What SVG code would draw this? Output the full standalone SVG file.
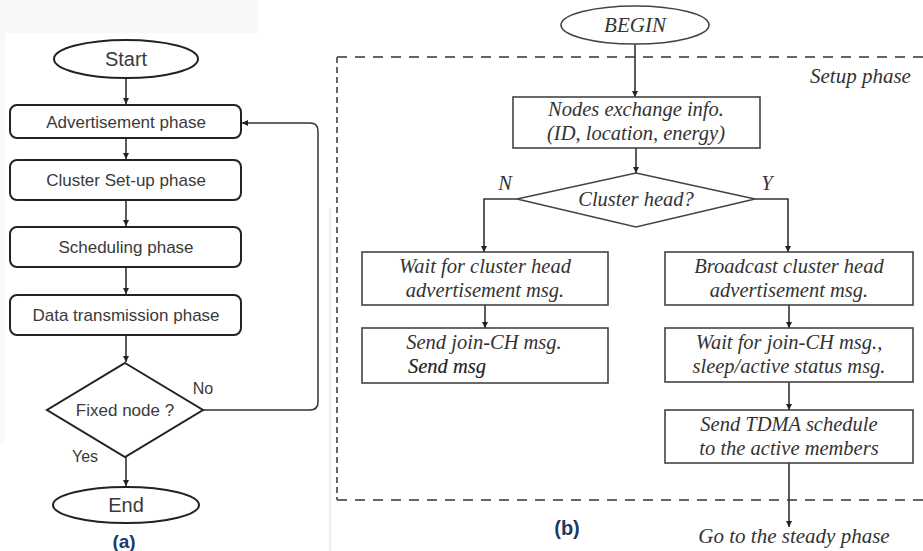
<svg xmlns="http://www.w3.org/2000/svg" width="923" height="551" viewBox="0 0 923 551">
<style>
.sa{font-family:"Liberation Sans",Arial,sans-serif;fill:#3a3a3a;text-anchor:middle}
.sr{font-family:"Liberation Serif","Times New Roman",serif;font-style:italic;font-size:20.5px;fill:#333;text-anchor:middle}
.bl{fill:#fff;stroke:#222;stroke-width:2}
.br{fill:#fff;stroke:#444;stroke-width:1.6}
.cn{fill:none;stroke:#333;stroke-width:1.6}
.lbl{font-family:"Liberation Sans",Arial,sans-serif;font-weight:bold;fill:#1f3864;text-anchor:middle}
</style>
<defs>
<marker id="ah" viewBox="0 0 10 10" refX="10" refY="5" markerWidth="6" markerHeight="6" markerUnits="userSpaceOnUse" orient="auto">
<path d="M0,0 L10,5 L0,10 z" fill="#222"/>
</marker>
</defs>
<rect x="0" y="0" width="923" height="551" fill="#fff"/>
<rect x="0" y="0" width="258" height="33" fill="#f8f8f8"/>
<rect x="0" y="33" width="5" height="410" fill="#f9f9f9"/>
<line x1="330" y1="207" x2="330" y2="551" stroke="#e8e8e8" stroke-width="1.5"/>

<!-- Setup phase dashed frame -->
<g id="setup-frame" fill="none" stroke="#666" stroke-width="2">
<path d="M923,57 L337,57" stroke-dasharray="10 8"/>
<path d="M337,57 L337,500" stroke-dasharray="6 4"/>
<path d="M337,500 L923,500" stroke-dasharray="10 8"/>
</g>
<text x="810" y="83" class="sr" style="text-anchor:start;font-size:21px">Setup phase</text>

<!-- Connectors -->
<g id="connectors">
<g class="cn" stroke="#222" stroke-width="1.8">
<line x1="126" y1="78" x2="126" y2="104" marker-end="url(#ah)"/>
<line x1="126" y1="138" x2="126" y2="159" marker-end="url(#ah)"/>
<line x1="126" y1="200" x2="126" y2="226" marker-end="url(#ah)"/>
<line x1="126" y1="267" x2="126" y2="294" marker-end="url(#ah)"/>
<line x1="126" y1="335" x2="126" y2="362" marker-end="url(#ah)"/>
<line x1="126" y1="457" x2="126" y2="486" marker-end="url(#ah)"/>
<path d="M203,410 L310,410 Q318,410 318,402 L318,131 Q318,123 310,123 L242,123" marker-end="url(#ah)" stroke-width="1.5"/>
</g>
<g class="cn">
<line x1="635" y1="44" x2="635" y2="97" marker-end="url(#ah)"/>
<line x1="636" y1="148" x2="636" y2="173" marker-end="url(#ah)"/>
<polyline points="517,199 484,199 484,252" marker-end="url(#ah)"/>
<polyline points="755,199 788,199 788,252" marker-end="url(#ah)"/>
<line x1="485" y1="305" x2="485" y2="328" marker-end="url(#ah)"/>
<line x1="789" y1="305" x2="789" y2="328" marker-end="url(#ah)"/>
<line x1="789" y1="382" x2="789" y2="410" marker-end="url(#ah)"/>
<line x1="789" y1="463" x2="789" y2="527" marker-end="url(#ah)"/>
</g>
</g>

<!-- (a) nodes -->
<g id="a-start"><ellipse cx="126" cy="59" rx="72" ry="19" class="bl"/><text x="126" y="66" class="sa" font-size="20">Start</text></g>
<g id="a-advert"><rect x="10" y="105" width="231" height="33" rx="7" class="bl"/><text x="126" y="128" class="sa" font-size="17">Advertisement phase</text></g>
<g id="a-cluster"><rect x="10" y="160" width="231" height="40" rx="7" class="bl"/><text x="126" y="186" class="sa" font-size="17">Cluster Set-up phase</text></g>
<g id="a-sched"><rect x="10" y="227" width="231" height="40" rx="7" class="bl"/><text x="126" y="253" class="sa" font-size="17">Scheduling phase</text></g>
<g id="a-data"><rect x="10" y="295" width="231" height="40" rx="7" class="bl"/><text x="126" y="321" class="sa" font-size="17">Data transmission phase</text></g>
<g id="a-fixed"><polygon points="125,363 203,410 125,457 47,410" class="bl"/><text x="125" y="416" class="sa" font-size="17">Fixed node ?</text></g>
<g id="a-end"><ellipse cx="126" cy="505" rx="73" ry="18" class="bl"/><text x="126" y="512" class="sa" font-size="20">End</text></g>
<text x="203" y="394" class="sa" font-size="16">No</text>
<text x="85" y="462" class="sa" font-size="16">Yes</text>
<text x="124" y="548" class="lbl" font-size="19">(a)</text>

<!-- (b) nodes -->
<g id="b-begin"><ellipse cx="635" cy="25" rx="74" ry="19" class="br"/><text x="635" y="32" class="sr" style="font-size:21px">BEGIN</text></g>
<g id="b-exchange"><rect x="513" y="97" width="247" height="51" class="br"/><text x="636" y="116" class="sr">Nodes exchange info.</text><text x="636" y="140" class="sr">(ID, location, energy)</text></g>
<g id="b-decision"><polygon points="636,173 755,199 636,227 517,199" class="br"/><text x="636" y="206" class="sr">Cluster head?</text></g>
<text x="505" y="190" class="sr">N</text>
<text x="767" y="190" class="sr">Y</text>
<g id="b-wait-ch"><rect x="362" y="252" width="246" height="53" class="br"/><text x="485" y="273" class="sr">Wait for cluster head</text><text x="485" y="297" class="sr">advertisement msg.</text></g>
<g id="b-send-join"><rect x="362" y="328" width="246" height="55" class="br"/><text x="484" y="349" class="sr">Send join-CH msg.</text><text x="408" y="373" class="sr" style="text-anchor:start;fill:#222;stroke:#222;stroke-width:0.15">Send msg</text></g>
<g id="b-broadcast"><rect x="665" y="252" width="248" height="53" class="br"/><text x="789" y="273" class="sr">Broadcast cluster head</text><text x="789" y="297" class="sr">advertisement msg.</text></g>
<g id="b-wait-join"><rect x="665" y="328" width="248" height="54" class="br"/><text x="789" y="349" class="sr">Wait for join-CH msg.,</text><text x="789" y="373" class="sr">sleep/active status msg.</text></g>
<g id="b-tdma"><rect x="665" y="410" width="248" height="53" class="br"/><text x="789" y="431" class="sr">Send TDMA schedule</text><text x="789" y="455" class="sr">to the active members</text></g>
<text x="794" y="543" class="sr" style="font-size:21px">Go to the steady phase</text>
<text x="567" y="535" class="lbl" font-size="20">(b)</text>
</svg>
